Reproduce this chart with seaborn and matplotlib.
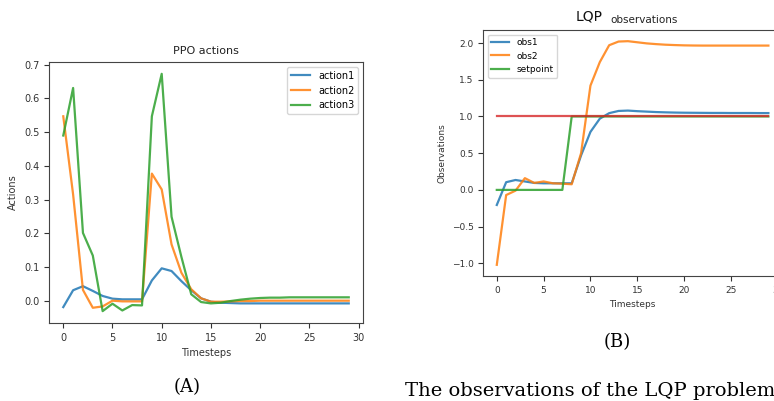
import matplotlib
matplotlib.use("Agg")
import matplotlib.pyplot as plt
import seaborn as sns
import numpy as np

timesteps = list(range(30))

action1 = [-0.019, 0.031, 0.043, 0.029, 0.014, 0.006, 0.004, 0.004, 0.004, 0.060,
           0.096, 0.088, 0.058, 0.031, 0.007, -0.003, -0.006, -0.007, -0.008, -0.008,
           -0.008, -0.008, -0.008, -0.008, -0.008, -0.008, -0.008, -0.008, -0.008, -0.008]
action2 = [0.547, 0.315, 0.032, -0.021, -0.017, 0.000, -0.002, -0.002, -0.002, 0.377,
           0.330, 0.167, 0.083, 0.034, 0.007, -0.003, -0.003, -0.002, -0.001, -0.001,
           0.000, 0.000, 0.000, 0.000, 0.000, 0.000, 0.000, 0.000, 0.000, 0.000]
action3 = [0.490, 0.631, 0.201, 0.134, -0.031, -0.009, -0.029, -0.013, -0.014, 0.547,
           0.673, 0.249, 0.130, 0.019, -0.004, -0.008, -0.006, -0.001, 0.003, 0.006,
           0.008, 0.009, 0.009, 0.010, 0.010, 0.010, 0.010, 0.010, 0.010, 0.010]

obs1 = [-0.205, 0.105, 0.135, 0.115, 0.095, 0.090, 0.090, 0.090, 0.090, 0.470,
        0.790, 0.970, 1.045, 1.075, 1.080, 1.072, 1.066, 1.060, 1.056, 1.053,
        1.051, 1.050, 1.049, 1.048, 1.048, 1.047, 1.047, 1.047, 1.046, 1.046]
obs2 = [-1.020, -0.070, -0.010, 0.160, 0.095, 0.115, 0.090, 0.085, 0.077, 0.500,
        1.420, 1.740, 1.970, 2.020, 2.025, 2.010, 1.995, 1.985, 1.977, 1.972,
        1.968, 1.966, 1.965, 1.965, 1.965, 1.965, 1.965, 1.965, 1.965, 1.965]
setpoint = [0, 0, 0, 0, 0, 0, 0, 0, 1, 1, 1, 1, 1, 1, 1, 1, 1, 1, 1, 1,
            1, 1, 1, 1, 1, 1, 1, 1, 1, 1]
target = [1, 1, 1, 1, 1, 1, 1, 1, 1, 1, 1, 1, 1, 1, 1, 1, 1, 1, 1, 1,
          1, 1, 1, 1, 1, 1, 1, 1, 1, 1]

plt.rcParams['font.family'] = ['DejaVu Sans']
fig = plt.figure(figsize=(7.74, 4.01), dpi=100)

spine_col = '#444444'
tick_fs = 7
LW = 1.6
AL = 0.85

# ---- Left: PPO actions
axA = fig.add_axes([0.0633, 0.1945, 0.4057, 0.651])
sns.lineplot(x=timesteps, y=action1, ax=axA, color='C0', label='action1', lw=LW, alpha=AL)
sns.lineplot(x=timesteps, y=action2, ax=axA, color='C1', label='action2', lw=LW, alpha=AL)
sns.lineplot(x=timesteps, y=action3, ax=axA, color='C2', label='action3', lw=LW, alpha=AL)
axA.set_title('PPO actions', fontsize=8, color='#222222')
axA.set_xlabel('Timesteps', fontsize=7, color='#333333')
axA.set_ylabel('Actions', fontsize=7, color='#333333')
axA.set_xticks([0, 5, 10, 15, 20, 25, 30])
axA.set_yticks([0.0, 0.1, 0.2, 0.3, 0.4, 0.5, 0.6, 0.7])
axA.legend(loc='upper right', fontsize=7)
axA.tick_params(labelsize=tick_fs, colors='#333333')

# ---- Right: observations
axB = fig.add_axes([0.6243, 0.3117, 0.386, 0.6135])
sns.lineplot(x=timesteps, y=obs1, ax=axB, color='C0', label='obs1', lw=LW, alpha=AL)
sns.lineplot(x=timesteps, y=obs2, ax=axB, color='C1', label='obs2', lw=LW, alpha=AL)
sns.lineplot(x=timesteps, y=setpoint, ax=axB, color='C2', label='setpoint', lw=LW, alpha=AL)
sns.lineplot(x=timesteps, y=target, ax=axB, color='C3', label='_nolegend_', lw=LW, alpha=0.8)
axB.set_xlabel('Timesteps', fontsize=6.5, color='#333333')
axB.set_ylabel('Observations', fontsize=6.5, color='#333333')
axB.set_xticks([0, 5, 10, 15, 20, 25, 30])
axB.set_yticks([-1.0, -0.5, 0.0, 0.5, 1.0, 1.5, 2.0])
axB.legend(loc='upper left', fontsize=6.5)
axB.tick_params(labelsize=6.5, colors='#333333')

for ax in (axA, axB):
    for s in ax.spines.values():
        s.set_color(spine_col)

fig.text(589 / 774, 1 - 17 / 401, 'LQP', fontsize=10, ha='center', va='center', color='#111111')
fig.text(644 / 774, 1 - 20 / 401, 'observations', fontsize=7.5, ha='center', va='center', color='#222222')

serif = ['DejaVu Serif']
fig.text(187 / 774, 1 - 387 / 401, '(A)', fontsize=13, ha='center', va='center', family=serif)
fig.text(617 / 774, 1 - 342 / 401, '(B)', fontsize=13, ha='center', va='center', family=serif)
fig.text(405 / 774, 1 - 391 / 401, 'The observations of the LQP problem', fontsize=14,
         ha='left', va='center', family=serif)

fig.savefig('out.png', dpi=100)
